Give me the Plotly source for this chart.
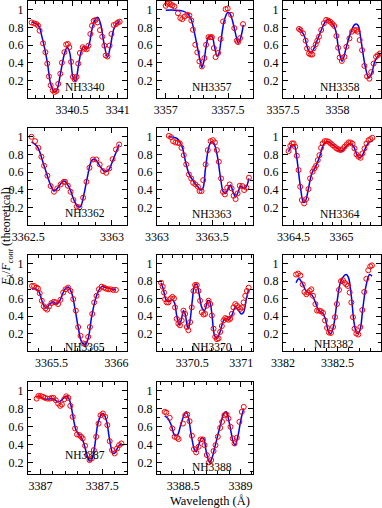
import plotly.graph_objects as go

# ---------------- data ----------------
nh3340_obs_wl = [3340.06, 3340.087, 3340.11, 3340.13, 3340.147, 3340.184, 3340.21, 3340.23, 3340.248, 3340.267,
                 3340.29, 3340.31, 3340.33, 3340.35, 3340.372, 3340.39, 3340.417, 3340.436, 3340.455, 3340.47,
                 3340.49, 3340.51, 3340.53, 3340.55, 3340.568, 3340.586, 3340.617, 3340.635, 3340.66, 3340.68,
                 3340.70, 3340.718, 3340.737, 3340.756, 3340.778, 3340.805, 3340.83, 3340.853, 3340.868, 3340.887,
                 3340.91, 3340.93, 3340.955, 3340.98, 3341.0, 3341.02]
nh3340_obs_fl = [0.857, 0.846, 0.84, 0.82, 0.763, 0.62, 0.52, 0.39, 0.245, 0.144,
                 0.087, 0.068, 0.08, 0.16, 0.275, 0.40, 0.52, 0.606, 0.613, 0.576,
                 0.41, 0.24, 0.21, 0.24, 0.39, 0.51, 0.576, 0.557, 0.553, 0.594,
                 0.726, 0.82, 0.876, 0.884, 0.857, 0.77, 0.695, 0.594, 0.482, 0.47,
                 0.594, 0.726, 0.827, 0.838, 0.857, 0.865]
nh3340_fit_wl = [3340.06, 3340.135, 3340.173, 3340.23, 3340.267, 3340.305, 3340.33, 3340.38, 3340.417, 3340.447,
                 3340.474, 3340.51, 3340.538, 3340.568, 3340.598, 3340.628, 3340.658, 3340.688, 3340.718, 3340.756,
                 3340.782, 3340.812, 3340.85, 3340.887, 3340.917, 3340.955, 3340.989, 3341.02]
nh3340_fit_fl = [0.865, 0.82, 0.69, 0.41, 0.16, 0.07, 0.08, 0.31, 0.50, 0.576,
                 0.52, 0.24, 0.19, 0.35, 0.52, 0.587, 0.55, 0.613, 0.78, 0.895,
                 0.914, 0.84, 0.613, 0.463, 0.576, 0.78, 0.846, 0.868]

nh3357_obs_wl = [3357.0, 3357.013, 3357.027, 3357.04, 3357.053, 3357.07, 3357.098, 3357.117, 3357.133, 3357.152,
                 3357.173, 3357.19, 3357.205, 3357.218, 3357.237, 3357.253, 3357.27, 3357.29, 3357.31, 3357.324,
                 3357.343, 3357.36, 3357.37, 3357.386, 3357.40, 3357.42, 3357.44, 3357.46, 3357.48, 3357.497,
                 3357.524, 3357.55, 3357.57, 3357.58, 3357.596, 3357.62]
nh3357_obs_fl = [1.045, 1.068, 1.075, 1.064, 1.05, 1.038, 0.962, 0.906, 0.894, 0.925,
                 0.943, 0.936, 0.879, 0.774, 0.604, 0.517, 0.415, 0.358, 0.453, 0.604,
                 0.69, 0.69, 0.69, 0.566, 0.464, 0.51, 0.668, 0.868, 1.008, 1.015,
                 0.943, 0.792, 0.65, 0.634, 0.679, 0.838]
nh3357_fit_wl = [3357.0, 3357.072, 3357.138, 3357.178, 3357.205, 3357.231, 3357.258, 3357.277, 3357.29, 3357.306,
                 3357.324, 3357.343, 3357.37, 3357.391, 3357.412, 3357.428, 3357.444, 3357.471, 3357.497, 3357.516,
                 3357.537, 3357.559, 3357.582, 3357.604, 3357.622]
nh3357_fit_fl = [0.996, 0.996, 0.985, 0.955, 0.887, 0.736, 0.547, 0.415, 0.347, 0.415,
                 0.585, 0.69, 0.698, 0.585, 0.472, 0.51, 0.66, 0.887, 0.97, 0.955,
                 0.868, 0.736, 0.623, 0.698, 0.83]

nh3358_obs_wl = [3357.646, 3357.66, 3357.683, 3357.707, 3357.72, 3357.738, 3357.753, 3357.768, 3357.78, 3357.80,
                 3357.814, 3357.83, 3357.85, 3357.875, 3357.896, 3357.915, 3357.936, 3357.954, 3357.97, 3357.99,
                 3358.006, 3358.02, 3358.04, 3358.064, 3358.082, 3358.11, 3358.134, 3358.155, 3358.174, 3358.186,
                 3358.204, 3358.226, 3358.247, 3358.271, 3358.293, 3358.31, 3358.332, 3358.354, 3358.37, 3358.39]
nh3358_obs_fl = [0.783, 0.771, 0.733, 0.65, 0.562, 0.505, 0.493, 0.493, 0.562, 0.608,
                 0.65, 0.695, 0.771, 0.848, 0.886, 0.878, 0.863, 0.84, 0.817, 0.703,
                 0.57, 0.459, 0.42, 0.467, 0.581, 0.676, 0.752, 0.771, 0.771, 0.752,
                 0.657, 0.543, 0.364, 0.246, 0.219, 0.295, 0.39, 0.467, 0.486, 0.505]
nh3358_fit_wl = [3357.646, 3357.692, 3357.729, 3357.753, 3357.784, 3357.814, 3357.845, 3357.89, 3357.912, 3357.951,
                 3357.982, 3358.012, 3358.043, 3358.082, 3358.119, 3358.155, 3358.174, 3358.192, 3358.216, 3358.256,
                 3358.287, 3358.308, 3358.348, 3358.393]
nh3358_fit_fl = [0.79, 0.714, 0.55, 0.512, 0.562, 0.657, 0.752, 0.867, 0.886, 0.848,
                 0.771, 0.543, 0.417, 0.581, 0.733, 0.829, 0.84, 0.817, 0.657, 0.352,
                 0.227, 0.257, 0.429, 0.505]

nh3362_obs_wl = [3362.52, 3362.541, 3362.561, 3362.579, 3362.595, 3362.615, 3362.634, 3362.654, 3362.674, 3362.694,
                 3362.713, 3362.72, 3362.737, 3362.753, 3362.77, 3362.79, 3362.806, 3362.828, 3362.848, 3362.866,
                 3362.887, 3362.907, 3362.927, 3362.947, 3362.966, 3362.984, 3363.004, 3363.024, 3363.043]
nh3362_obs_fl = [1.0, 0.951, 0.875, 0.774, 0.672, 0.558, 0.442, 0.377, 0.415, 0.46,
                 0.49, 0.49, 0.445, 0.377, 0.283, 0.208, 0.2, 0.309, 0.49, 0.649,
                 0.743, 0.743, 0.687, 0.611, 0.592, 0.642, 0.747, 0.857, 0.913]
nh3362_fit_wl = [3362.52, 3362.555, 3362.595, 3362.634, 3362.654, 3362.674, 3362.713, 3362.743, 3362.773, 3362.796,
                 3362.812, 3362.832, 3362.852, 3362.881, 3362.901, 3362.931, 3362.96, 3362.98, 3363.01, 3363.043]
nh3362_fit_fl = [0.943, 0.887, 0.672, 0.453, 0.385, 0.415, 0.498, 0.434, 0.283, 0.208,
                 0.208, 0.34, 0.528, 0.736, 0.743, 0.66, 0.604, 0.623, 0.755, 0.913]

nh3363_obs_wl = [3363.106, 3363.127, 3363.145, 3363.167, 3363.188, 3363.206, 3363.221, 3363.242, 3363.264, 3363.288,
                 3363.309, 3363.327, 3363.348, 3363.37, 3363.385, 3363.403, 3363.418, 3363.44, 3363.46, 3363.485,
                 3363.506, 3363.524, 3363.542, 3363.56, 3363.58, 3363.597, 3363.615, 3363.636, 3363.658, 3363.676,
                 3363.694, 3363.712, 3363.73, 3363.75, 3363.773, 3363.79, 3363.81, 3363.833]
nh3363_obs_fl = [1.011, 0.996, 0.951, 0.936, 0.932, 0.925, 0.875, 0.792, 0.687, 0.574,
                 0.528, 0.479, 0.46, 0.434, 0.385, 0.385, 0.509, 0.687, 0.849, 0.951,
                 0.962, 0.936, 0.849, 0.717, 0.528, 0.377, 0.347, 0.423, 0.46, 0.415,
                 0.332, 0.294, 0.358, 0.445, 0.442, 0.396, 0.423, 0.536]
nh3363_fit_wl = [3363.106, 3363.167, 3363.197, 3363.227, 3363.258, 3363.288, 3363.333, 3363.364, 3363.394, 3363.415,
                 3363.439, 3363.47, 3363.494, 3363.515, 3363.545, 3363.576, 3363.6, 3363.621, 3363.652, 3363.667,
                 3363.688, 3363.712, 3363.736, 3363.758, 3363.788, 3363.809, 3363.833]
nh3363_fit_fl = [1.0, 0.989, 0.962, 0.887, 0.717, 0.585, 0.49, 0.445, 0.396, 0.415,
                 0.642, 0.887, 0.943, 0.925, 0.792, 0.528, 0.377, 0.358, 0.434, 0.453,
                 0.377, 0.321, 0.377, 0.442, 0.415, 0.434, 0.528]

nh3364_obs_wl = [3364.448, 3364.466, 3364.483, 3364.5, 3364.517, 3364.534, 3364.552, 3364.569, 3364.586, 3364.61,
                 3364.631, 3364.655, 3364.672, 3364.697, 3364.717, 3364.734, 3364.752, 3364.769, 3364.786, 3364.803,
                 3364.824, 3364.845, 3364.866, 3364.886, 3364.907, 3364.928, 3364.948, 3364.969, 3364.99, 3365.01,
                 3365.03, 3365.052, 3365.072, 3365.093, 3365.114, 3365.134, 3365.155, 3365.176, 3365.197, 3365.217,
                 3365.238, 3365.259, 3365.28, 3365.3, 3365.32]
nh3364_obs_fl = [0.838, 0.898, 0.925, 0.925, 0.887, 0.785, 0.623, 0.434, 0.283, 0.245,
                 0.294, 0.408, 0.528, 0.604, 0.642, 0.672, 0.736, 0.792, 0.875, 0.925,
                 0.951, 0.951, 0.943, 0.925, 0.906, 0.887, 0.868, 0.857, 0.849, 0.86,
                 0.887, 0.913, 0.936, 0.936, 0.921, 0.868, 0.8, 0.774, 0.762, 0.811,
                 0.868, 0.925, 0.962, 0.974, 0.989]
nh3364_fit_wl = [3364.448, 3364.483, 3364.507, 3364.534, 3364.569, 3364.603, 3364.621, 3364.655, 3364.69, 3364.741,
                 3364.776, 3364.817, 3364.852, 3364.948, 3365.0, 3365.052, 3365.086, 3365.121, 3365.162, 3365.19,
                 3365.217, 3365.259, 3365.293, 3365.321]
nh3364_fit_fl = [0.83, 0.906, 0.906, 0.755, 0.453, 0.257, 0.264, 0.415, 0.585, 0.687,
                 0.792, 0.925, 0.943, 0.875, 0.838, 0.898, 0.925, 0.898, 0.792, 0.762,
                 0.792, 0.898, 0.943, 0.951]

nh3365_obs_wl = [3365.351, 3365.367, 3365.385, 3365.397, 3365.41, 3365.426, 3365.441, 3365.454, 3365.467, 3365.482,
                 3365.5, 3365.518, 3365.533, 3365.551, 3365.569, 3365.59, 3365.608, 3365.628, 3365.646, 3365.667,
                 3365.687, 3365.705, 3365.723, 3365.744, 3365.764, 3365.782, 3365.795, 3365.813, 3365.828, 3365.846,
                 3365.864, 3365.885, 3365.903, 3365.918, 3365.936, 3365.954, 3365.974, 3365.995]
nh3365_obs_fl = [0.745, 0.745, 0.726, 0.715, 0.662, 0.576, 0.512, 0.489, 0.474, 0.512,
                 0.549, 0.564, 0.557, 0.538, 0.587, 0.67, 0.707, 0.726, 0.688, 0.595,
                 0.463, 0.275, 0.174, 0.087, 0.08, 0.162, 0.275, 0.425, 0.557, 0.632,
                 0.707, 0.737, 0.726, 0.715, 0.707, 0.707, 0.70, 0.70]
nh3365_fit_wl = [3365.351, 3365.379, 3365.405, 3365.436, 3365.462, 3365.487, 3365.513, 3365.538, 3365.564, 3365.603,
                 3365.628, 3365.654, 3365.679, 3365.705, 3365.731, 3365.756, 3365.782, 3365.808, 3365.846, 3365.885,
                 3365.918, 3365.995]
nh3365_fit_fl = [0.707, 0.715, 0.677, 0.538, 0.493, 0.538, 0.564, 0.538, 0.576, 0.707,
                 0.733, 0.67, 0.5, 0.275, 0.106, 0.069, 0.144, 0.388, 0.632, 0.737,
                 0.726, 0.70]

nh3370_obs_wl = [3370.181, 3370.198, 3370.212, 3370.222, 3370.239, 3370.256, 3370.28, 3370.297, 3370.314, 3370.324,
                 3370.341, 3370.358, 3370.375, 3370.392, 3370.41, 3370.427, 3370.444, 3370.46, 3370.478, 3370.495,
                 3370.512, 3370.529, 3370.546, 3370.563, 3370.58, 3370.597, 3370.614, 3370.631, 3370.648, 3370.666,
                 3370.683, 3370.70, 3370.717, 3370.734, 3370.751, 3370.768, 3370.785, 3370.802, 3370.819, 3370.836,
                 3370.853, 3370.87, 3370.887, 3370.904, 3370.921, 3370.939, 3370.956, 3370.973, 3370.99, 3371.007,
                 3371.024, 3371.041, 3371.058, 3371.075]
nh3370_obs_fl = [0.782, 0.737, 0.67, 0.594, 0.557, 0.557, 0.602, 0.62, 0.602, 0.50,
                 0.369, 0.313, 0.294, 0.35, 0.463, 0.425, 0.275, 0.238, 0.331, 0.50,
                 0.688, 0.756, 0.756, 0.688, 0.576, 0.444, 0.418, 0.425, 0.519, 0.576,
                 0.538, 0.407, 0.256, 0.162, 0.136, 0.144, 0.219, 0.286, 0.35, 0.377,
                 0.369, 0.358, 0.369, 0.425, 0.50, 0.538, 0.519, 0.50, 0.482, 0.50,
                 0.557, 0.632, 0.688, 0.726]
nh3370_fit_wl = [3370.181, 3370.205, 3370.229, 3370.256, 3370.29, 3370.317, 3370.341, 3370.365, 3370.386, 3370.41,
                 3370.427, 3370.451, 3370.461, 3370.478, 3370.502, 3370.522, 3370.546, 3370.57, 3370.597, 3370.625,
                 3370.659, 3370.676, 3370.70, 3370.727, 3370.751, 3370.778, 3370.802, 3370.829, 3370.853, 3370.877,
                 3370.904, 3370.939, 3370.973, 3371.0, 3371.024, 3371.048, 3371.075]
nh3370_fit_fl = [0.782, 0.707, 0.594, 0.564, 0.587, 0.557, 0.407, 0.301, 0.35, 0.463,
                 0.425, 0.275, 0.256, 0.35, 0.594, 0.745, 0.763, 0.651, 0.50, 0.463,
                 0.576, 0.576, 0.425, 0.181, 0.144, 0.20, 0.294, 0.369, 0.369, 0.362,
                 0.407, 0.50, 0.463, 0.425, 0.444, 0.576, 0.707]

nh3382_obs_wl = [3382.119, 3382.138, 3382.159, 3382.18, 3382.196, 3382.214, 3382.229, 3382.245, 3382.26, 3382.275,
                 3382.297, 3382.312, 3382.33, 3382.349, 3382.367, 3382.385, 3382.404, 3382.422, 3382.44, 3382.459,
                 3382.477, 3382.495, 3382.514, 3382.532, 3382.55, 3382.566, 3382.581, 3382.596, 3382.612, 3382.627,
                 3382.642, 3382.657, 3382.673, 3382.691, 3382.71, 3382.728, 3382.746, 3382.765, 3382.783, 3382.801,
                 3382.817]
nh3382_obs_fl = [0.876, 0.887, 0.865, 0.763, 0.677, 0.65, 0.67, 0.688, 0.707, 0.632,
                 0.538, 0.463, 0.463, 0.455, 0.437, 0.35, 0.264, 0.211, 0.207, 0.275,
                 0.388, 0.538, 0.70, 0.80, 0.812, 0.782, 0.763, 0.745, 0.67, 0.557,
                 0.388, 0.256, 0.20, 0.189, 0.275, 0.47, 0.677, 0.827, 0.925, 0.97,
                 0.981]
nh3382_fit_wl = [3382.119, 3382.144, 3382.174, 3382.205, 3382.235, 3382.266, 3382.297, 3382.327, 3382.358, 3382.388,
                 3382.419, 3382.44, 3382.465, 3382.495, 3382.526, 3382.557, 3382.581, 3382.602, 3382.627, 3382.654,
                 3382.679, 3382.703, 3382.734, 3382.765, 3382.795, 3382.817]
nh3382_fit_fl = [0.782, 0.827, 0.782, 0.70, 0.67, 0.64, 0.557, 0.463, 0.444, 0.369,
                 0.219, 0.20, 0.294, 0.557, 0.782, 0.857, 0.876, 0.838, 0.632, 0.313,
                 0.20, 0.226, 0.50, 0.763, 0.876, 0.857]

nh3387_obs_wl = [3386.97, 3386.984, 3387.003, 3387.022, 3387.038, 3387.057, 3387.076, 3387.092, 3387.106, 3387.125,
                 3387.144, 3387.16, 3387.174, 3387.193, 3387.209, 3387.226, 3387.242, 3387.261, 3387.28, 3387.296,
                 3387.315, 3387.329, 3387.342, 3387.361, 3387.378, 3387.397, 3387.416, 3387.432, 3387.451, 3387.47,
                 3387.486, 3387.505, 3387.524, 3387.541, 3387.56, 3387.579, 3387.60, 3387.62, 3387.636, 3387.655]
nh3387_obs_fl = [0.914, 0.944, 0.944, 0.933, 0.922, 0.914, 0.914, 0.922, 0.922, 0.896,
                 0.859, 0.833, 0.848, 0.907, 0.94, 0.922, 0.833, 0.71, 0.58, 0.513,
                 0.505, 0.487, 0.468, 0.386, 0.282, 0.226, 0.245, 0.338, 0.487, 0.635,
                 0.728, 0.747, 0.71, 0.617, 0.438, 0.338, 0.30, 0.356, 0.393, 0.412]
nh3387_fit_wl = [3386.97, 3386.989, 3387.016, 3387.043, 3387.084, 3387.111, 3387.144, 3387.171, 3387.207, 3387.228,
                 3387.247, 3387.269, 3387.288, 3387.315, 3387.342, 3387.37, 3387.397, 3387.416, 3387.438, 3387.465,
                 3387.492, 3387.508, 3387.533, 3387.56, 3387.587, 3387.606, 3387.628, 3387.655]
nh3387_fit_fl = [0.933, 0.944, 0.922, 0.907, 0.914, 0.907, 0.877, 0.896, 0.944, 0.922,
                 0.84, 0.673, 0.561, 0.505, 0.449, 0.319, 0.215, 0.237, 0.375, 0.635,
                 0.736, 0.747, 0.673, 0.449, 0.30, 0.311, 0.375, 0.412]

nh3388_obs_wl = [3388.337, 3388.352, 3388.381, 3388.404, 3388.424, 3388.445, 3388.459, 3388.497, 3388.517, 3388.535,
                 3388.555, 3388.576, 3388.593, 3388.613, 3388.634, 3388.651, 3388.672, 3388.686, 3388.706, 3388.724,
                 3388.744, 3388.765, 3388.782, 3388.802, 3388.823, 3388.84, 3388.86, 3388.878, 3388.895, 3388.913,
                 3388.933, 3388.948, 3388.968, 3388.991, 3389.012, 3389.029]
nh3388_obs_fl = [0.766, 0.758, 0.699, 0.58, 0.487, 0.476, 0.461, 0.635, 0.728, 0.736,
                 0.661, 0.498, 0.349, 0.312, 0.375, 0.457, 0.457, 0.393, 0.282, 0.20,
                 0.226, 0.327, 0.393, 0.487, 0.587, 0.654, 0.728, 0.736, 0.691, 0.598,
                 0.468, 0.412, 0.476, 0.654, 0.766, 0.821]
nh3388_fit_wl = [3388.337, 3388.366, 3388.395, 3388.424, 3388.448, 3388.477, 3388.506, 3388.526, 3388.547, 3388.57,
                 3388.599, 3388.613, 3388.634, 3388.657, 3388.677, 3388.701, 3388.73, 3388.75, 3388.773, 3388.817,
                 3388.855, 3388.875, 3388.904, 3388.933, 3388.953, 3388.977, 3389.006, 3389.029]
nh3388_fit_fl = [0.721, 0.691, 0.617, 0.505, 0.505, 0.617, 0.728, 0.766, 0.691, 0.505,
                 0.338, 0.319, 0.393, 0.468, 0.468, 0.319, 0.20, 0.245, 0.356, 0.58,
                 0.747, 0.766, 0.635, 0.449, 0.393, 0.487, 0.691, 0.803]

panel_names = ["NH3340", "NH3357", "NH3358", "NH3362", "NH3363", "NH3364",
               "NH3365", "NH3370", "NH3382", "NH3387", "NH3388"]
y_tick_vals = [0.2, 0.4, 0.6, 0.8, 1.0]
y_tick_text = ["0.2", "0.4", "0.6", "0.8", "1"]

series = {
    "NH3340": (nh3340_obs_wl, nh3340_obs_fl, nh3340_fit_wl, nh3340_fit_fl),
    "NH3357": (nh3357_obs_wl, nh3357_obs_fl, nh3357_fit_wl, nh3357_fit_fl),
    "NH3358": (nh3358_obs_wl, nh3358_obs_fl, nh3358_fit_wl, nh3358_fit_fl),
    "NH3362": (nh3362_obs_wl, nh3362_obs_fl, nh3362_fit_wl, nh3362_fit_fl),
    "NH3363": (nh3363_obs_wl, nh3363_obs_fl, nh3363_fit_wl, nh3363_fit_fl),
    "NH3364": (nh3364_obs_wl, nh3364_obs_fl, nh3364_fit_wl, nh3364_fit_fl),
    "NH3365": (nh3365_obs_wl, nh3365_obs_fl, nh3365_fit_wl, nh3365_fit_fl),
    "NH3370": (nh3370_obs_wl, nh3370_obs_fl, nh3370_fit_wl, nh3370_fit_fl),
    "NH3382": (nh3382_obs_wl, nh3382_obs_fl, nh3382_fit_wl, nh3382_fit_fl),
    "NH3387": (nh3387_obs_wl, nh3387_obs_fl, nh3387_fit_wl, nh3387_fit_fl),
    "NH3388": (nh3388_obs_wl, nh3388_obs_fl, nh3388_fit_wl, nh3388_fit_fl),
}

# ---------------- layout (positions / styles) ----------------
W, H = 382, 508
FONT = "Liberation Serif, Times New Roman, serif"

col_px = [(28, 127), (157, 253), (283, 381)]
row_px = [(1, 98), (128, 225), (255, 351), (382, 474)]
row_yrange = [(0, 1.1), (0, 1.1), (0, 1.1), (0.07, 1.1)]

x_ranges = {
    "NH3340": (3340.02, 3341.1), "NH3357": (3356.93, 3357.70), "NH3358": (3357.499, 3358.40),
    "NH3362": (3362.499, 3363.09), "NH3363": (3362.999, 3363.87), "NH3364": (3364.39, 3365.41),
    "NH3365": (3365.32, 3366.08), "NH3370": (3370.14, 3371.12), "NH3382": (3381.999, 3382.90),
    "NH3387": (3386.90, 3387.70), "NH3388": (3388.27, 3389.11),
}
label_px = {
    "NH3340": (85, 87), "NH3357": (212, 87), "NH3358": (340, 87),
    "NH3362": (85, 213), "NH3363": (212, 214), "NH3364": (340, 214),
    "NH3365": (85, 347), "NH3370": (212, 347), "NH3382": (334, 344),
    "NH3387": (85, 455), "NH3388": (212, 467),
}

fig = go.Figure()
annotations = []
for i, name in enumerate(panel_names):
    r, c = divmod(i, 3)
    k = i + 1
    xs = "" if k == 1 else str(k)
    obs_wl, obs_fl, fit_wl, fit_fl = series[name]
    fig.add_trace(go.Scatter(x=fit_wl, y=fit_fl, mode="lines",
                             line=dict(color="#0000ff", width=1.5, shape="spline", smoothing=1.0),
                             xaxis="x" + xs, yaxis="y" + xs, showlegend=False, hoverinfo="skip"))
    fig.add_trace(go.Scatter(x=obs_wl, y=obs_fl, mode="markers",
                             marker=dict(symbol="circle-open", color="#ff0000", size=5,
                                         line=dict(width=1, color="#ff0000")),
                             xaxis="x" + xs, yaxis="y" + xs, showlegend=False, hoverinfo="skip"))
    x0, x1 = col_px[c]
    t, b = row_px[r]
    xdom = [x0 / W, x1 / W]
    ydom = [1 - b / H, 1 - t / H]
    common = dict(showline=True, linecolor="black", linewidth=1, mirror="allticks",
                  ticks="inside", ticklen=5, tickwidth=1, tickcolor="black",
                  showgrid=False, zeroline=False, automargin=False,
                  tickfont=dict(family=FONT, size=12, color="black"))
    fig.layout["xaxis" + xs] = dict(domain=xdom, range=list(x_ranges[name]), anchor="y" + xs,
                                    tickmode="linear", tick0=0, dtick=0.5, tickformat=".6~g",
                                    minor=dict(ticks="inside", ticklen=3, tickcolor="black",
                                               tick0=0, dtick=0.1, showgrid=False),
                                    ticklabelstandoff=1, **common)
    fig.layout["yaxis" + xs] = dict(domain=ydom, range=list(row_yrange[r]), anchor="x" + xs,
                                    tickmode="array", tickvals=y_tick_vals, ticktext=y_tick_text,
                                    minor=dict(ticks="inside", ticklen=3, tickcolor="black",
                                               tickmode="linear", tick0=0, dtick=0.1, showgrid=False),
                                    ticklabelstandoff=1, **common)
    lx, ly = label_px[name]
    annotations.append(dict(text=name, x=lx / W, y=1 - ly / H, xref="paper", yref="paper",
                            showarrow=False, xanchor="center", yanchor="middle",
                            font=dict(family=FONT, size=11.5, color="black")))

annotations.append(dict(text="<i>F</i><sub><i>λ</i></sub>/<i>F</i><sub><i>cont</i></sub> (theoretical)",
                        x=7 / W, y=1 - 237 / H, xref="paper", yref="paper", textangle=-90,
                        showarrow=False, xanchor="center", yanchor="middle",
                        font=dict(family=FONT, size=12, color="black")))
annotations.append(dict(text="Wavelength (Å)", x=210 / W, y=1 - 501 / H, xref="paper", yref="paper",
                        showarrow=False, xanchor="center", yanchor="middle",
                        font=dict(family=FONT, size=12.5, color="black")))

fig.update_layout(template="none", width=W, height=H, margin=dict(l=0, r=0, t=0, b=0),
                  paper_bgcolor="white", plot_bgcolor="white", hovermode=False,
                  annotations=annotations, showlegend=False)
fig.write_html("out.html", config={"displayModeBar": False, "staticPlot": True},
               post_script="document.body.style.margin='0px';document.body.style.overflow='hidden';")
